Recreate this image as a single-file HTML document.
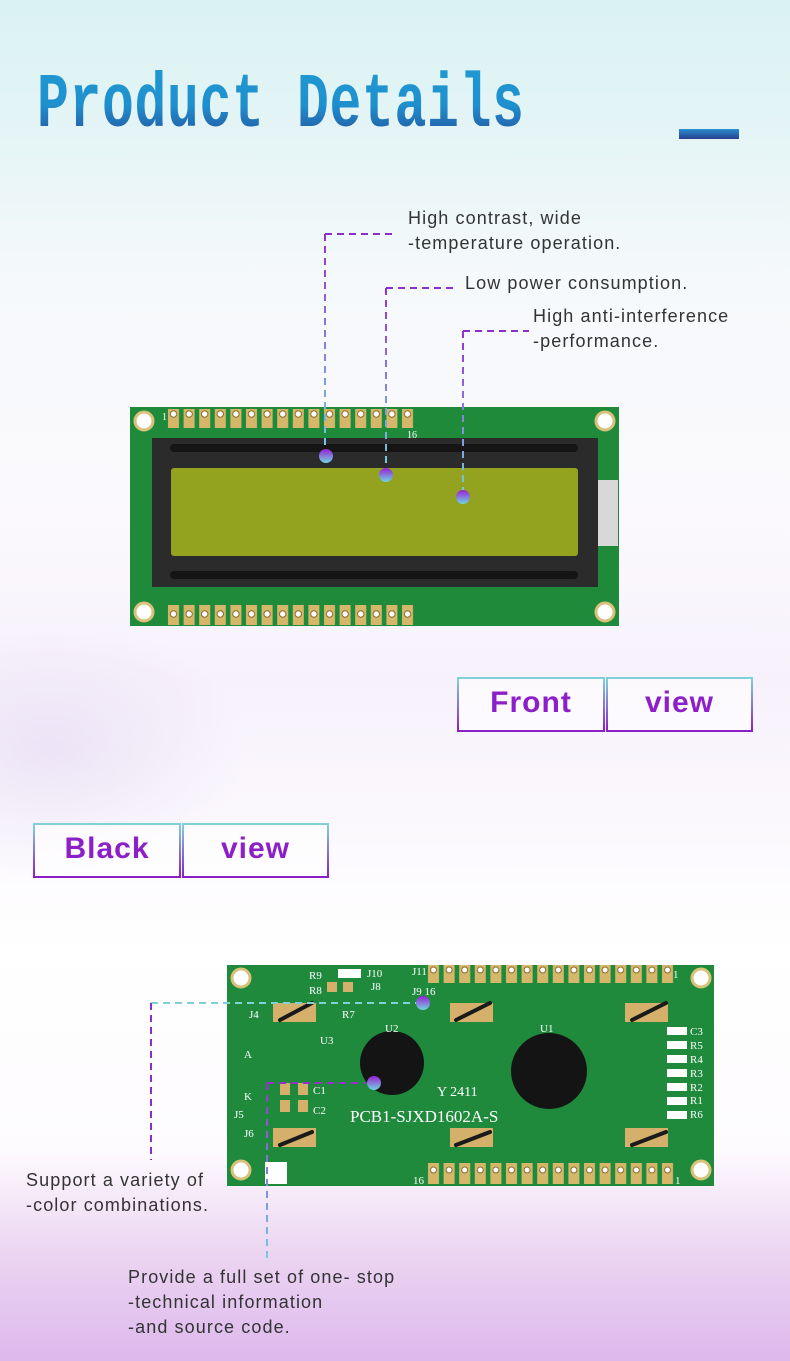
<!DOCTYPE html>
<html><head><meta charset="utf-8"><style>
body{margin:0;}
#p{position:relative;width:790px;height:1361px;overflow:hidden;font-family:"Liberation Sans",sans-serif;
background:linear-gradient(180deg,#daf2f3 0px,#e6f5f6 150px,#f6f9fb 280px,#fbf9fd 520px,#f7f1fb 680px,#fbf8fd 820px,#ffffff 950px,#fdfbfe 1150px,#ecd6f2 1250px,#ddb8ec 1361px);}
#glow{position:absolute;left:-150px;top:620px;width:400px;height:260px;background:radial-gradient(ellipse at center,rgba(220,208,240,0.45),rgba(255,255,255,0) 70%);}
.t{position:absolute;font-family:"Liberation Mono",monospace;font-weight:bold;font-size:53px;left:37px;top:62px;transform:scaleY(1.45);transform-origin:0 0;
background:linear-gradient(180deg,#1f9bd2 0%,#1f8fce 50%,#273f8e 100%);-webkit-background-clip:text;background-clip:text;color:transparent;letter-spacing:0.7px;}
.bar{position:absolute;left:679px;top:129px;width:60px;height:10px;background:linear-gradient(180deg,#2a8fd0,#273f8e);}
.lb{position:absolute;font-size:18px;color:#333;line-height:25px;letter-spacing:1.1px;}
.btn{position:absolute;border:2px solid;border-image:linear-gradient(180deg,#7fd3da,#8b1ec6) 1;box-sizing:border-box;color:#8d1fc9;font-weight:bold;font-size:30px;text-align:center;line-height:48px;background:rgba(255,255,255,0.6);letter-spacing:1px;}
svg{position:absolute;left:0;top:0;}
</style></head><body><div id="p">
<div id="glow"></div>
<div class="t">Product Details</div>
<div class="bar"></div>

<div class="lb" style="left:408px;top:206px">High contrast, wide<br>-temperature operation.</div>
<div class="lb" style="left:465px;top:271px">Low power consumption.</div>
<div class="lb" style="left:533px;top:304px">High anti-interference<br>-performance.</div>

<div class="btn" style="left:457px;top:677px;width:148px;height:55px">Front</div>
<div class="btn" style="left:606px;top:677px;width:147px;height:55px">view</div>
<div class="btn" style="left:33px;top:823px;width:148px;height:55px">Black</div>
<div class="btn" style="left:182px;top:823px;width:147px;height:55px">view</div>

<div class="lb" style="left:26px;top:1168px">Support a variety of<br>-color combinations.</div>
<div class="lb" style="left:128px;top:1265px">Provide a full set of one- stop<br>-technical information<br>-and source code.</div>

<svg width="790" height="1361" viewBox="0 0 790 1361">
<defs>
<linearGradient id="dot" x1="0" y1="0" x2="0" y2="1"><stop offset="0" stop-color="#9a1fd6"/><stop offset="1" stop-color="#6fd6e0"/></linearGradient>
<linearGradient id="v1" gradientUnits="userSpaceOnUse" x1="0" y1="234" x2="0" y2="452"><stop offset="0" stop-color="#9a2fd0"/><stop offset="1" stop-color="#72cfe0"/></linearGradient>
<linearGradient id="v2" gradientUnits="userSpaceOnUse" x1="0" y1="288" x2="0" y2="470"><stop offset="0" stop-color="#9a2fd0"/><stop offset="1" stop-color="#72cfe0"/></linearGradient>
<linearGradient id="v3" gradientUnits="userSpaceOnUse" x1="0" y1="331" x2="0" y2="490"><stop offset="0" stop-color="#9a2fd0"/><stop offset="1" stop-color="#72cfe0"/></linearGradient>
<linearGradient id="v4" gradientUnits="userSpaceOnUse" x1="0" y1="1083" x2="0" y2="1262"><stop offset="0" stop-color="#9a2fd0"/><stop offset="1" stop-color="#72cfe0"/></linearGradient>
<pattern id="pinT" x="166" y="0" width="15.6" height="40" patternUnits="userSpaceOnUse"><rect x="2" y="0" width="11" height="40" rx="3" fill="#d6b76a"/><circle cx="7.5" cy="14" r="3.2" fill="#fff" stroke="#8a6b2a" stroke-width="1"/></pattern>
<pattern id="pinB" x="426" y="0" width="15.6" height="40" patternUnits="userSpaceOnUse"><rect x="2" y="0" width="11" height="40" rx="3" fill="#d6b76a"/><circle cx="7.5" cy="10" r="3" fill="#fff" stroke="#8a6b2a" stroke-width="1"/></pattern>
</defs>

<rect x="130" y="407" width="489" height="219" fill="#1f8a3a"/>
<rect x="166" y="409" width="250" height="19" fill="url(#pinT)"/>
<rect x="166" y="605" width="250" height="20" fill="url(#pinT)"/>
<g fill="#fff" stroke="#d8c27a" stroke-width="3">
<circle cx="144" cy="421" r="9"/><circle cx="605" cy="421" r="9"/><circle cx="144" cy="612" r="9"/><circle cx="605" cy="612" r="9"/></g>
<text x="162" y="420" font-size="10" fill="#fff" font-family="Liberation Serif">1</text>
<text x="407" y="438" font-size="10" fill="#fff" font-family="Liberation Serif">16</text>
<rect x="596" y="480" width="22" height="66" fill="#d8d8d8"/>
<rect x="152" y="438" width="446" height="149" fill="#2b2b2b"/>
<rect x="170" y="444" width="408" height="8" rx="4" fill="#151515"/>
<rect x="170" y="571" width="408" height="8" rx="4" fill="#151515"/>
<rect x="171" y="468" width="407" height="88" rx="3" fill="#93a21f"/>

<g fill="none" stroke-width="2" stroke-dasharray="7,5">
<path d="M325 234H397" stroke="#8a2fc8"/><path d="M325 234V452" stroke="url(#v1)"/>
<path d="M386 288H457" stroke="#8a2fc8"/><path d="M386 288V470" stroke="url(#v2)"/>
<path d="M463 331H529" stroke="#8a2fc8"/><path d="M463 331V490" stroke="url(#v3)"/>
</g>
<circle cx="326" cy="456" r="7" fill="url(#dot)"/>
<circle cx="386" cy="475" r="7" fill="url(#dot)"/>
<circle cx="463" cy="497" r="7" fill="url(#dot)"/>

<rect x="227" y="965" width="487" height="221" fill="#1f8a3c"/>
<rect x="426" y="965" width="250" height="18" fill="url(#pinB)"/>
<rect x="426" y="1163" width="250" height="21" fill="url(#pinB)"/>
<g fill="#fff" stroke="#d8c27a" stroke-width="3">
<circle cx="241" cy="978" r="9"/><circle cx="701" cy="978" r="9"/><circle cx="241" cy="1170" r="9"/><circle cx="701" cy="1170" r="9"/></g>
<g fill="#d4b06a">
<rect x="273" y="1003" width="43" height="19"/><rect x="450" y="1003" width="43" height="19"/><rect x="625" y="1003" width="43" height="19"/>
<rect x="273" y="1128" width="43" height="19"/><rect x="450" y="1128" width="43" height="19"/><rect x="625" y="1128" width="43" height="19"/>
<rect x="327" y="982" width="10" height="10"/><rect x="343" y="982" width="10" height="10"/>
<rect x="280" y="1083" width="10" height="12"/><rect x="298" y="1083" width="10" height="12"/>
<rect x="280" y="1100" width="10" height="12"/><rect x="298" y="1100" width="10" height="12"/>
</g>
<g stroke="#1a1a1a" stroke-width="4" stroke-linecap="round">
<path d="M280 1020L312 1003"/><path d="M456 1020L490 1003"/><path d="M632 1020L666 1003"/>
<path d="M280 1145L312 1132"/><path d="M456 1145L490 1132"/><path d="M632 1145L666 1132"/>
</g>
<circle cx="392" cy="1063" r="32" fill="#141414"/>
<circle cx="549" cy="1071" r="38" fill="#141414"/>
<g font-family="Liberation Serif" font-size="11" fill="#fff">
<text x="309" y="979">R9</text><text x="309" y="994">R8</text><text x="367" y="977">J10</text><text x="371" y="990">J8</text>
<text x="412" y="975">J11</text><text x="412" y="995">J9 16</text><text x="249" y="1018">J4</text><text x="342" y="1018">R7</text>
<text x="385" y="1032">U2</text><text x="540" y="1032">U1</text><text x="320" y="1044">U3</text><text x="244" y="1058">A</text>
<text x="244" y="1100">K</text><text x="234" y="1118">J5</text><text x="244" y="1137">J6</text><text x="313" y="1094">C1</text><text x="313" y="1114">C2</text>
<text x="690" y="1035">C3</text><text x="690" y="1049">R5</text><text x="690" y="1063">R4</text><text x="690" y="1077">R3</text>
<text x="690" y="1091">R2</text><text x="690" y="1104">R1</text><text x="690" y="1118">R6</text>
<text x="673" y="978">1</text><text x="413" y="1184">16</text><text x="675" y="1184">1</text>
<text x="437" y="1096" font-size="14">Y 2411</text>
<text x="350" y="1122" font-size="17">PCB1-SJXD1602A-S</text>
</g>
<g fill="#fff"><rect x="667" y="1027" width="20" height="8"/><rect x="667" y="1041" width="20" height="8"/><rect x="667" y="1055" width="20" height="8"/><rect x="667" y="1069" width="20" height="8"/><rect x="667" y="1083" width="20" height="8"/><rect x="667" y="1097" width="20" height="8"/><rect x="667" y="1111" width="20" height="8"/>
<rect x="338" y="969" width="23" height="9"/><rect x="265" y="1162" width="22" height="22"/></g>

<g fill="none" stroke-width="2" stroke-dasharray="7,5">
<path d="M151 1003H420" stroke="#7fd0d8"/><path d="M151 1003V1160" stroke="#8a2fc8"/>
<path d="M267 1083H365" stroke="#9a2fd0"/><path d="M267 1083V1262" stroke="url(#v4)"/>
</g>
<circle cx="423" cy="1003" r="7" fill="url(#dot)"/>
<circle cx="374" cy="1083" r="7" fill="url(#dot)"/>
</svg>
</div></body></html>
